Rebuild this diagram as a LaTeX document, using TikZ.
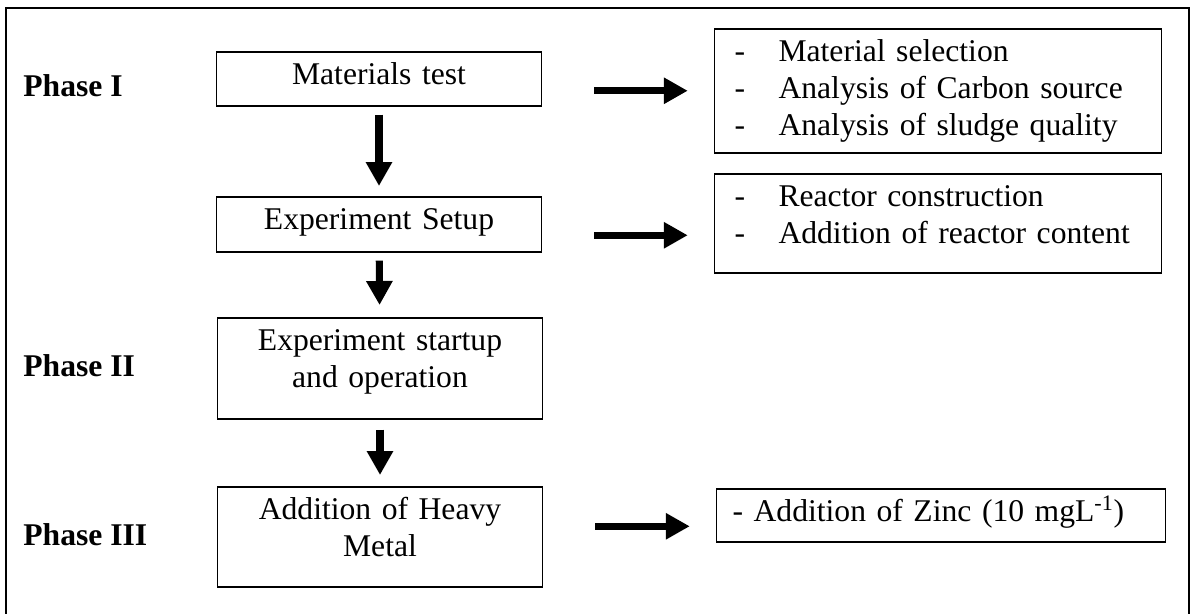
\documentclass[tikz,border=0pt]{standalone}
\usepackage{fontspec}
\setmainfont{Liberation Serif}
\usetikzlibrary{arrows.meta}

\newcommand{\dashitem}[1]{\makebox[0.88cm][l]{-}#1}

\tikzset{>={Triangle[length=0.48cm, width=0.5cm]},
             box/.style={draw, line width=0.9pt, anchor=north, align=center, inner xsep=0pt, inner ysep=0pt, text height=0.66cm},
            list/.style={box, align=left, inner xsep=0.4cm},
           phase/.style={anchor=base west, inner sep=0pt, font=\fontsize{18pt}{21pt}\selectfont\bfseries},
            flow/.style={->, line width=4pt}}

\begin{document}
\begin{tikzpicture}[x=0.02cm, y=-0.02cm, font=\fontsize{18pt}{21pt}\selectfont]
        \useasboundingbox (0,0) rectangle (1200,614);
        \draw[line width=0.9pt] (6,614) -- (6,8) -- (1189,8) -- (1189,614);

        \node[phase] at (23,  97) (phaseone)   {Phase I};
        \node[phase] at (23, 377) (phasetwo)   {Phase II};
        \node[phase] at (23, 545) (phasethree) {Phase III};

        \node[box, text width=6.5cm, text depth=0.42cm] at (379,  51) (mat)     {Materials test};
        \node[box, text width=6.5cm, text depth=0.44cm] at (379, 196) (setup)   {Experiment Setup};
        \node[box, text width=6.5cm, text depth=1.36cm] at (380, 317) (startup) {Experiment startup\\and operation};
        \node[box, text width=6.5cm, text depth=1.34cm] at (380, 486) (heavy)   {Addition of Heavy\\Metal};

        \node[list, text width=8.14cm, text depth=1.82cm] at (938, 28)  (matlist)
            {\dashitem{Material selection}\\\dashitem{Analysis of Carbon source}\\\dashitem{Analysis of sludge quality}};
        \node[list, text width=8.14cm, text depth=1.32cm] at (938, 173) (setuplist)
            {\dashitem{Reactor construction}\\\dashitem{Addition of reactor content}};
        \node[list, inner xsep=0.32cm, text width=8.34cm, text depth=0.4cm] at (941, 488) (zinclist)
            {- Addition of Zinc (10 mgL\textsuperscript{-1})};

        \draw[flow, shorten <=0.16cm, shorten >=0.2cm]  (mat)     -- (setup);
        \draw[flow, shorten <=0.16cm, shorten >=0.24cm] (setup)   -- (startup);
        \draw[flow, shorten <=0.2cm,  shorten >=0.22cm] (startup) -- (heavy);

        \draw[flow, shorten <=1.04cm, shorten >=0.52cm] (matlist.west -| mat.east) -- (matlist.west);
        \draw[flow, shorten <=1.04cm, shorten >=0.52cm]
            ([yshift=-0.24cm]setuplist.west -| setup.east) -- ([yshift=-0.24cm]setuplist.west);
        \draw[flow, shorten <=1.04cm, shorten >=0.52cm]
            ([yshift=-0.22cm]zinclist.west -| heavy.east) -- ([yshift=-0.22cm]zinclist.west);
\end{tikzpicture}
\end{document}
